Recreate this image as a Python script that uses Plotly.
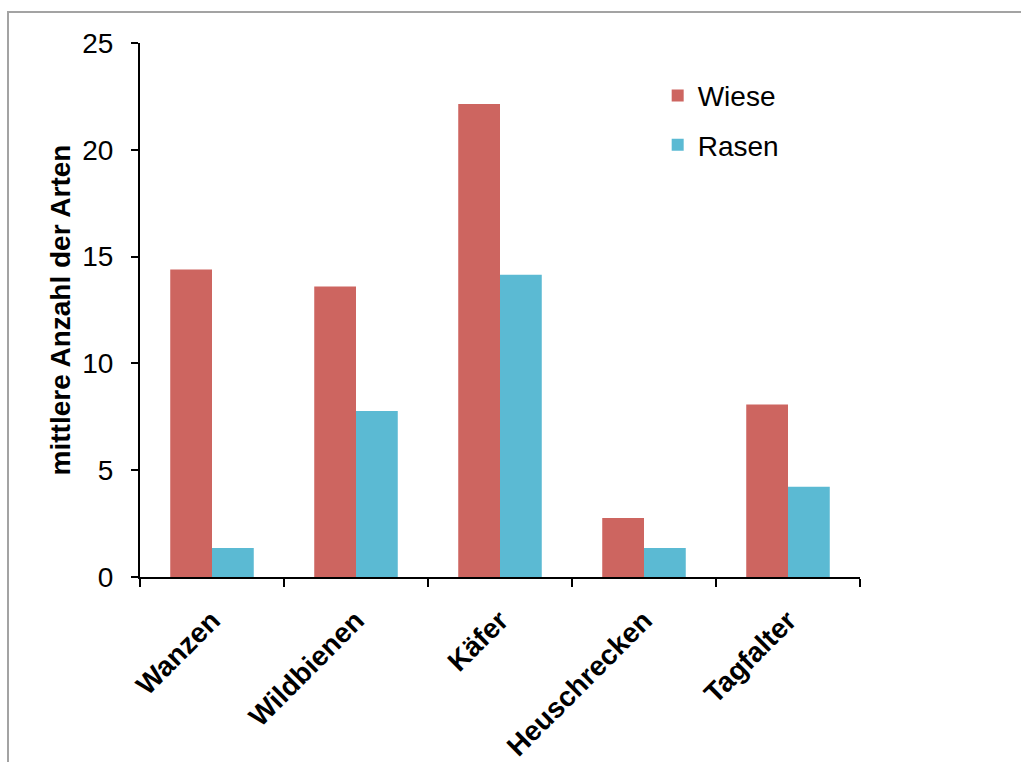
import plotly.graph_objects as go

# Insect groups and mean species counts per habitat
categories = ["Wanzen", "Wildbienen", "Käfer", "Heuschrecken", "Tagfalter"]
wiese = [14.4, 13.6, 22.15, 2.76, 8.07]
rasen = [1.36, 7.77, 14.15, 1.36, 4.22]
y_ticks = [0, 5, 10, 15, 20, 25]

FONT = "Liberation Sans, Arial, sans-serif"
C_WIESE = "#CD6560"
C_RASEN = "#5BBAD3"

fig = go.Figure()
fig.add_trace(go.Bar(x=categories, y=wiese, name="Wiese", marker_color=C_WIESE,
                     marker_line_width=0, legendgroup="a"))
fig.add_trace(go.Bar(x=categories, y=rasen, name="Rasen", marker_color=C_RASEN,
                     marker_line_width=0, legendgroup="b"))

L, R, T, B = 140, 161, 43, 185
fig.update_layout(
    width=1021, height=762,
    margin=dict(l=L, r=R, t=T, b=B, pad=0, autoexpand=False),
    paper_bgcolor="white", plot_bgcolor="white",
    barmode="group", bargap=0.42, bargroupgap=0,
    font=dict(family=FONT, size=28, color="black"),
    legend=dict(x=0.719, y=0.948, xanchor="left", yanchor="top",
                font=dict(size=28), tracegroupgap=10,
                bgcolor="rgba(0,0,0,0)"),
    xaxis=dict(
        showline=True, linecolor="black", linewidth=2,
        ticks="outside", ticklen=8, tickwidth=2, tickcolor="black",
        tickson="boundaries", tickangle=-45, ticklabelstandoff=14,
        tickfont=dict(family=FONT, size=28, weight="bold"),
        showgrid=False, zeroline=False, automargin=False,
    ),
    yaxis=dict(
        range=[0, 25], tickvals=y_ticks,
        showline=True, linecolor="black", linewidth=2,
        ticks="outside", ticklen=7, tickwidth=2, tickcolor="black",
        ticklabelstandoff=12, automargin=False,
        showgrid=False, zeroline=False,
        title=dict(text="<b>mittlere Anzahl der Arten</b>",
                   font=dict(family=FONT, size=28), standoff=3),
    ),
)

# Light grey frame around the chart area
fig.add_shape(type="rect", xref="paper", yref="paper",
              x0=(8 - L) / 720, x1=1.6, y0=-0.6, y1=1 + 31 / 534,
              line=dict(color="#A3A3A3", width=2), layer="below")

fig.write_html("out.html")
